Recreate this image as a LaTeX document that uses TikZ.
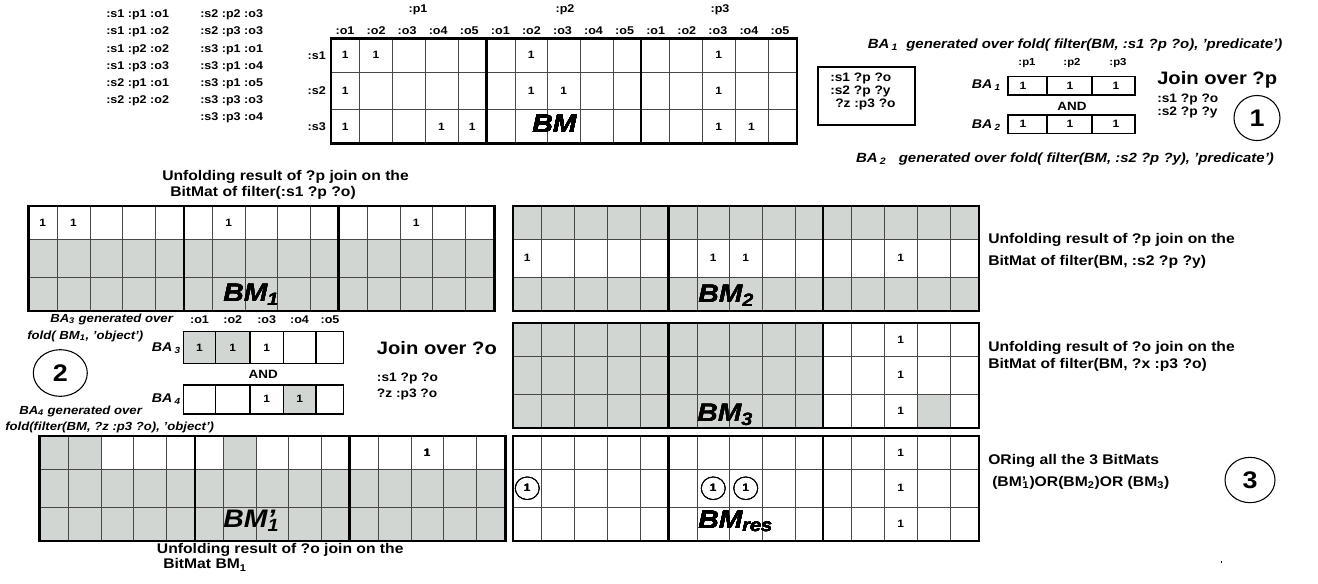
\documentclass[tikz,border=0pt]{standalone}
\usepackage{fontspec}
\setmainfont[FakeStretch=1.12]{Liberation Sans}
\usetikzlibrary{shapes.geometric}
\definecolor{cellgray}{RGB}{210,214,210}
\def\cx{{0,28.5,61.5,94,127,155.5,184,216.5,249,282,310,338.5,371.5,404,437,466}}
\def\ry{{0,33.5,71,105}}
\newcommand\fsz[1]{\fontsize{#1}{#1}\selectfont}
\newcommand\bgrid[2]{%
 \foreach \cc in {1,...,14}{\pgfmathsetmacro\xx{#1+\cx[\cc]}\draw[thinl] (\xx,#2) -- (\xx,#2+105);}
 \foreach \rr in {1,2}{\pgfmathsetmacro\yy{#2+\ry[\rr]}\draw[thinl] (#1,\yy) -- (#1+466,\yy);}
 \foreach \cc in {5,10}{\pgfmathsetmacro\xx{#1+\cx[\cc]}\draw[thickl] (\xx,#2) -- (\xx,#2+105);}
 \draw[thickl] (#1,#2) rectangle (#1+466,#2+105);}
\newcommand\gcell[4]{%
 \pgfmathsetmacro\xa{#1+\cx[#3]}\pgfmathsetmacro\xb{#1+\cx[#3+1]}%
 \pgfmathsetmacro\ya{#2+\ry[#4]}\pgfmathsetmacro\yb{#2+\ry[#4+1]}%
 \fill[cellgray] (\xa,\ya) rectangle (\xb,\yb);}
\newcommand\bone[5]{%
 \pgfmathsetmacro\xa{#1+(\cx[#3]+\cx[#3+1])/2}\pgfmathsetmacro\ya{#2+(\ry[#4]+\ry[#4+1])/2}%
 \node[onec] (#5) at (\xa,\ya) {1};}
\newcommand\cone[5]{%
 \pgfmathsetmacro\xa{#1+(\cx[#3]+\cx[#3+1])/2}\pgfmathsetmacro\ya{#2+(\ry[#4]+\ry[#4+1])/2}%
 \node[onec, draw, ellipse, line width=0.6pt, minimum width=18pt, minimum height=17pt] (#5) at (\xa,\ya) {1};}
\tikzset{
 thinl/.style={line width=0.7pt, draw=black!72},
 thickl/.style={line width=1.6pt, draw=black},
 boxl/.style={line width=0.8pt, draw=black},
 onec/.style={font=\fsz{8}\bfseries, inner sep=0pt},
 lab/.style={font=\fsz{8.4}\bfseries, inner sep=0pt},
 smlab/.style={font=\fsz{7.6}\bfseries, inner sep=0pt},
 txt/.style={font=\fsz{10.5}\bfseries, inner sep=0pt, anchor=west},
 ita/.style={font=\fsz{10}\bfseries\itshape, inner sep=0pt},
 itas/.style={font=\fsz{8.8}\bfseries\itshape, inner sep=0pt, anchor=west},
 balab/.style={font=\fsz{9.5}\bfseries\itshape, inner sep=0pt, anchor=east},
 bmlab/.style={font=\fsz{19}\bfseries\itshape, inner sep=0pt, anchor=base west},
 joinl/.style={font=\fsz{13.5}\bfseries, inner sep=0pt, anchor=west},
 numc/.style={draw, ellipse, line width=0.8pt, font=\fsz{18}\bfseries, inner sep=0pt},
}
\begin{document}
\begin{tikzpicture}[x=0.75pt,y=-0.75pt]
\useasboundingbox (0,0) rectangle (1318,583);
% ---------- triples list
\foreach \t [count=\k from 0] in {{:s1 :p1 :o1},{:s1 :p1 :o2},{:s1 :p2 :o2},{:s1 :p3 :o3},{:s2 :p1 :o1},{:s2 :p2 :o2}}
  \node[lab, anchor=west] (ta\k) at (106,15+17.2*\k) {\t};
\foreach \t [count=\k from 0] in {{:s2 :p2 :o3},{:s2 :p3 :o3},{:s3 :p1 :o1},{:s3 :p1 :o4},{:s3 :p1 :o5},{:s3 :p3 :o3},{:s3 :p3 :o4}}
  \node[lab, anchor=west] (tb\k) at (200,15+17.2*\k) {\t};
% ---------- top BM
\bgrid{331}{38.5}
\node[lab] (p1) at (418,10) {:p1};
\node[lab] (p2) at (565,10) {:p2};
\node[lab] (p3) at (720,10) {:p3};
\foreach \k in {0,...,14}{\pgfmathtruncatemacro\o{mod(\k,5)+1}\node[lab] (ol\k) at (345+31.07*\k,30.7) {:o\o};}
\node[lab, anchor=east] (s1) at (326,55.2) {:s1};
\node[lab, anchor=east] (s2) at (326,90.5) {:s2};
\node[lab, anchor=east] (s3) at (326,126.5) {:s3};
\foreach \cc/\rr in {0/0,1/0,6/0,12/0,0/1,6/1,7/1,12/1,0/2,3/2,4/2,12/2,13/2}
  \bone{331}{38.5}{\cc}{\rr}{bm-\cc-\rr}
\node[bmlab] (bmname) at (532,132) {BM};
% ---------- top right
\node[ita] (ba1cap) at (1075,45) {BA\,\textsubscript{1}\ \ generated over fold( filter(BM, :s1 ?p ?o), 'predicate')};
\draw[boxl] (818,67) rectangle (915,125);
\node[lab, font=\fsz{9.2}\bfseries, anchor=west] (q1) at (830,78.3) {:s1 ?p ?o};
\node[lab, font=\fsz{9.2}\bfseries, anchor=west] (q2) at (830,91.7) {:s2 ?p ?y};
\node[lab, font=\fsz{9.2}\bfseries, anchor=west] (q3) at (835,104.5) {?z :p3 ?o};
\node[smlab] (ap1) at (1027,63.3) {:p1};
\node[smlab] (ap2) at (1072,63.3) {:p2};
\node[smlab] (ap3) at (1118,63.3) {:p3};
\draw[boxl] (1008,76.7) rectangle (1135,95);
\draw[boxl] (1047,76.7) -- (1047,95) (1092,76.7) -- (1092,95);
\draw[boxl] (1008,115) rectangle (1135,133.3);
\draw[boxl] (1047,115) -- (1047,133.3) (1092,115) -- (1092,133.3);
\node[balab] (ba1) at (1001,85.5) {BA\,\textsubscript{1}};
\node[balab] (ba2) at (1001,125) {BA\,\textsubscript{2}};
\node[onec] (ba1a) at (1023,86) {1};
\node[onec] (ba1b) at (1070,86) {1};
\node[onec] (ba1c) at (1116,86) {1};
\node[onec] (ba2a) at (1023,124.3) {1};
\node[onec] (ba2b) at (1070,124.3) {1};
\node[onec] (ba2c) at (1116,124.3) {1};
\node[lab, font=\fsz{9}\bfseries] (and1) at (1072,106) {AND};
\node[joinl] (join1) at (1157,80) {Join over ?p};
\node[lab, font=\fsz{9.2}\bfseries, anchor=west] (j1a) at (1157,99.5) {:s1 ?p ?o};
\node[lab, font=\fsz{9.2}\bfseries, anchor=west] (j1b) at (1157,112) {:s2 ?p ?y};
\node[numc, minimum width=34.5pt, minimum height=33.8pt] (c1) at (1257,118) {1};
\node[ita] (ba2cap) at (1065,159) {BA\,\textsubscript{2}\ \ \ generated over fold( filter(BM, :s2 ?p ?y), 'predicate')};
% ---------- BM1
\node[txt] (u1a) at (162,176.7) {Unfolding result of ?p join on the};
\node[txt] (u1b) at (170,193.3) {BitMat of filter(:s1 ?p ?o)};
\foreach \cc in {0,...,14}{\gcell{28.5}{206}{\cc}{1}\gcell{28.5}{206}{\cc}{2}}
\bgrid{28.5}{206}
\foreach \cc in {0,1,6,12} \bone{28.5}{206}{\cc}{0}{bma-\cc}
\node[bmlab] (bm1name) at (223,301) {BM\textsubscript{1}};
% ---------- BM2
\foreach \cc in {0,...,14}{\gcell{513}{206}{\cc}{0}\gcell{513}{206}{\cc}{2}}
\bgrid{513}{206}
\foreach \cc in {0,6,7,12} \bone{513}{206}{\cc}{1}{bmb-\cc}
\node[bmlab] (bm2name) at (698,302) {BM\textsubscript{2}};
\node[txt] (u2a) at (988,240) {Unfolding result of ?p join on the};
\node[txt] (u2b) at (988,262) {BitMat of filter(BM, :s2 ?p ?y)};
% ---------- BA3 / BA4
\node[itas] (ba3c1) at (50,319) {BA\textsubscript{3} generated over};
\node[itas] (ba3c2) at (27,336) {fold( BM\textsubscript{1}, 'object')};
\node[numc, minimum width=40.5pt, minimum height=35pt] (c2) at (60.3,373) {2};
\node[itas] (ba4c1) at (19,411) {BA\textsubscript{4} generated over};
\node[itas] (ba4c2) at (5,427.5) {fold(filter(BM, ?z :p3 ?o), 'object')};
\foreach \k/\x in {1/199.5,2/232.8,3/266.7,4/299.5,5/330}
  \node[lab] (bo\k) at (\x,320) {:o\k};
\fill[cellgray] (183.3,331.7) rectangle (250,363.3);
\fill[cellgray] (283.3,385) rectangle (316,414);
\draw[boxl] (183.3,331.7) rectangle (343.3,363.3);
\draw[boxl] (183.3,385) rectangle (343.3,414);
\foreach \x in {215.7,250,283.3,316}{
  \draw[boxl] (\x,331.7) -- (\x,363.3);
  \draw[boxl] (\x,385) -- (\x,414);}
\node[balab] (ba3) at (181,348.5) {BA\,\textsubscript{3}};
\node[balab] (ba4) at (181,399) {BA\,\textsubscript{4}};
\node[onec] (ba3a) at (199.5,348) {1};
\node[onec] (ba3b) at (232.8,348) {1};
\node[onec] (ba3c) at (266.7,348) {1};
\node[onec] (ba4a) at (266.7,399) {1};
\node[onec] (ba4b) at (299.6,399) {1};
\node[lab, font=\fsz{9}\bfseries] (and2) at (263.3,374) {AND};
\node[joinl] (join2) at (376.7,348.3) {Join over ?o};
\node[lab, font=\fsz{9.2}\bfseries, anchor=west] (j2a) at (376.7,378.3) {:s1 ?p ?o};
\node[lab, font=\fsz{9.2}\bfseries, anchor=west] (j2b) at (376.7,394.3) {?z :p3 ?o};
% ---------- BM3
\foreach \cc in {0,...,9}{\gcell{513}{323}{\cc}{0}\gcell{513}{323}{\cc}{1}\gcell{513}{323}{\cc}{2}}
\gcell{513}{323}{13}{2}
\bgrid{513}{323}
\foreach \rr in {0,1,2} \bone{513}{323}{12}{\rr}{bmc-\rr}
\node[bmlab] (bm3name) at (697,421.5) {BM\textsubscript{3}};
\node[txt] (u3a) at (988,348) {Unfolding result of ?o join on the};
\node[txt] (u3b) at (988,365) {BitMat of filter(BM, ?x :p3 ?o)};
% ---------- BM'1
\foreach \cc/\rr in {0/0,1/0,6/0} \gcell{39.5}{436}{\cc}{\rr}
\foreach \cc in {0,...,14}{\gcell{39.5}{436}{\cc}{1}\gcell{39.5}{436}{\cc}{2}}
\bgrid{39.5}{436}
\bone{39.5}{436}{12}{0}{bmd-12}
\node[bmlab] (bm1pname) at (223,527) {BM'\kern-0.3em\textsubscript{1}};
\node[txt] (u4a) at (156.7,550) {Unfolding result of ?o join on the};
\node[txt] (u4b) at (163,565) {BitMat BM\textsubscript{1}};
% ---------- BMres
\bgrid{513}{436}
\foreach \rr in {0,1,2} \bone{513}{436}{12}{\rr}{bme-\rr}
\foreach \cc in {0,6,7} \cone{513}{436}{\cc}{1}{bmc1-\cc}
\node[bmlab] (bmresname) at (698,528) {BM\textsubscript{res}};
\node[txt] (u5a) at (988,461) {ORing all the 3 BitMats};
\node[txt] (u5b) at (992,483) {(BM'\kern-0.25em\textsubscript{1})OR(BM\textsubscript{2})OR (BM\textsubscript{3})};
\node[numc, minimum width=37.5pt, minimum height=34pt] (c3) at (1250,480) {3};
\coordinate (tk1) at (1221,560.5);
\coordinate (tk2) at (1221,563);
\draw[line width=0.5pt] (tk1) -- (tk2);
\end{tikzpicture}
\end{document}
